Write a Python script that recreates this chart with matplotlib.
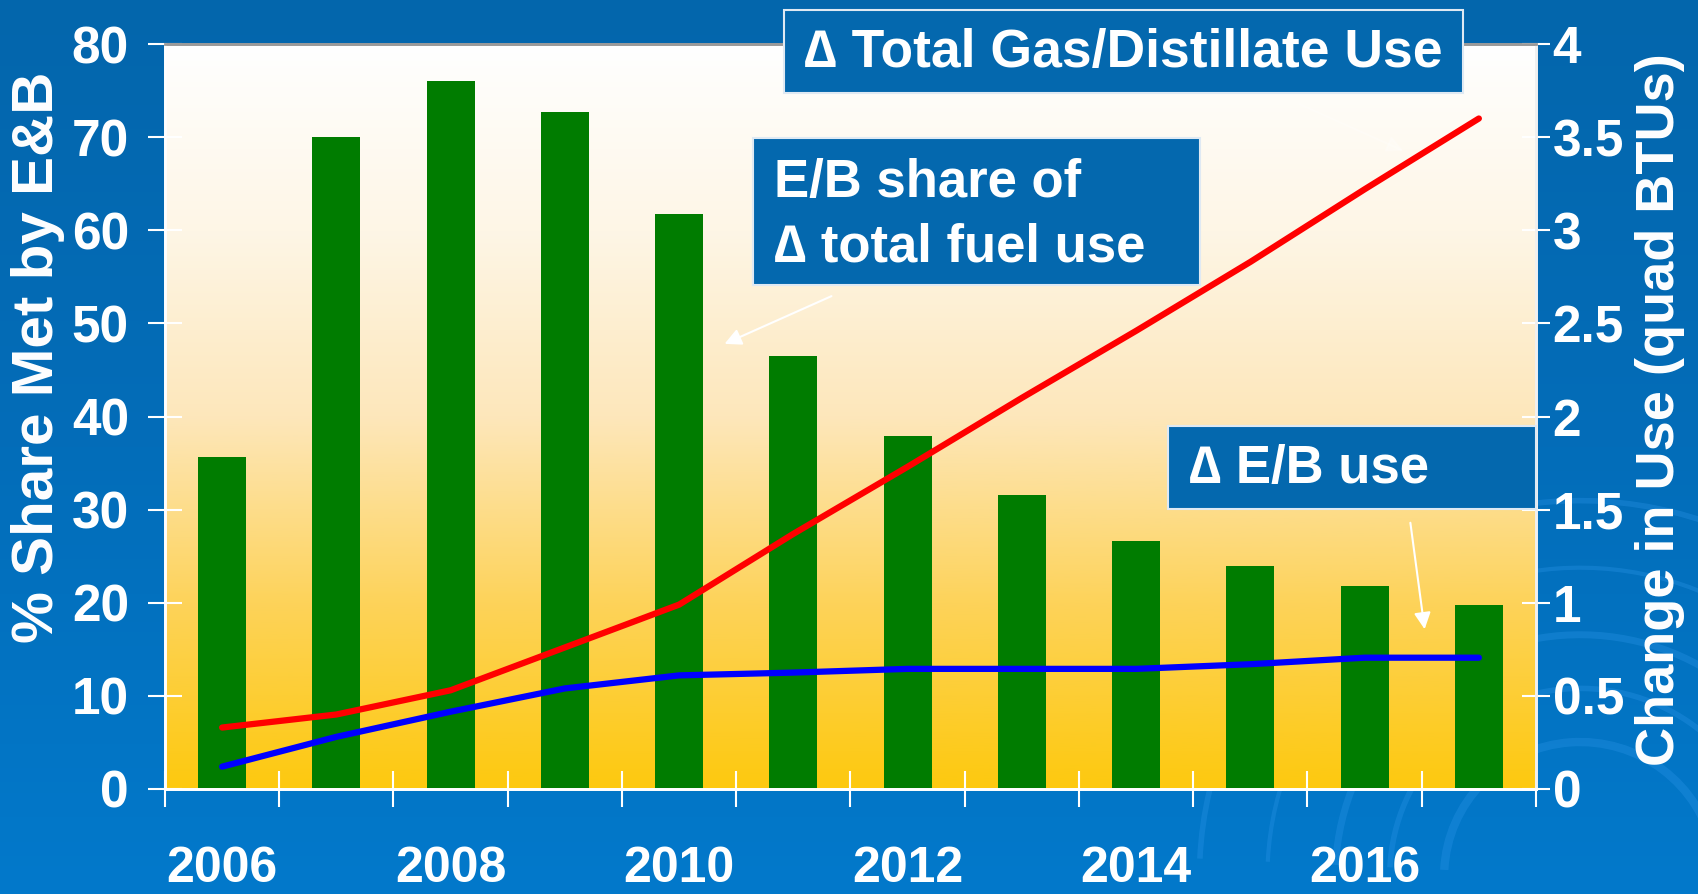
import matplotlib
matplotlib.use("Agg")
import matplotlib.pyplot as plt
import numpy as np
from matplotlib.patches import Rectangle, Arc, FancyArrowPatch
from matplotlib.colors import LinearSegmentedColormap

# data
years = [2006, 2007, 2008, 2009, 2010, 2011, 2012, 2013, 2014, 2015, 2016, 2017]
eb_share = [35.6, 70.0, 76.0, 72.7, 61.7, 46.5, 37.9, 31.6, 26.6, 23.9, 21.8, 19.8]
total_use = [0.33, 0.40, 0.53, 0.76, 0.99, 1.37, 1.73, 2.10, 2.46, 2.83, 3.22, 3.60]
eb_use = [0.12, 0.28, 0.415, 0.54, 0.61, 0.625, 0.645, 0.645, 0.645, 0.67, 0.705, 0.705]
label_years = [2006, 2008, 2010, 2012, 2014, 2016]
left_ticks = [0, 10, 20, 30, 40, 50, 60, 70, 80]
right_ticks = [0, 0.5, 1, 1.5, 2, 2.5, 3, 3.5, 4]
right_labels = ['0', '0.5', '1', '1.5', '2', '2.5', '3', '3.5', '4']

W, H = 1699, 894
def fx(px):
    return px / W
def fy(py):
    return 1 - py / H

bold = ['Liberation Sans', 'DejaVu Sans']

fig = plt.figure(figsize=(16.99, 8.94), dpi=100)

# blue slide background
bg = fig.add_axes([0, 0, 1, 1], zorder=-10)
bg.imshow(np.linspace(0, 1, 256).reshape(-1, 1), aspect='auto', extent=[0, 1, 0, 1],
          cmap=LinearSegmentedColormap.from_list('bg', ['#0366ac', '#036db9', '#0279cb']))
for r, lw in [(0.10, 6), (0.14, 4), (0.18, 5), (0.23, 3), (0.28, 4)]:
    bg.add_patch(Arc((0.93, 0.02), r * 1.6, r * 3.0, theta1=20, theta2=175,
                     color='#2a93e6', lw=lw, alpha=0.35))
bg.set_xlim(0, 1)
bg.set_ylim(0, 1)
bg.axis('off')

ax = fig.add_axes([fx(165), fy(789), fx(1536) - fx(165), fy(44) - fy(789)])
grad = LinearSegmentedColormap.from_list('plot', ['#ffffff', '#fef6e6', '#fde7bb', '#fdd35a', '#fdc90f'])
ax.imshow(np.linspace(0, 1, 256).reshape(-1, 1), aspect='auto', cmap=grad,
          extent=[2005.5, 2017.5, 0, 80], zorder=0)

ax.bar(years, eb_share, width=0.42, color='#007c00', zorder=2)
ax.set_xlim(2005.5, 2017.5)
ax.set_ylim(0, 80)

ax2 = ax.twinx()
ax2.plot(years, total_use, color='#ff0000', lw=4.5, solid_capstyle='round', zorder=3)
ax2.plot(years, eb_use, color='#0000ff', lw=4.5, solid_capstyle='round', zorder=3)
ax2.set_ylim(0, 4)

for a in (ax, ax2):
    a.spines['top'].set_color('#9a9a9a')
    a.spines['top'].set_linewidth(2)
    a.spines['left'].set_color('white')
    a.spines['right'].set_color('#f0f0f0')
    a.spines['bottom'].set_color('white')
    for s in ('left', 'right', 'bottom'):
        a.spines[s].set_linewidth(2)

ax.set_xticks(np.arange(2005.5, 2018, 1.0))
ax.set_xticklabels([])
ax.tick_params(axis='x', which='major', direction='inout', length=26, width=1.5, colors='white')
ax.set_xticks(label_years, minor=True)
ax.set_xticklabels([str(y) for y in label_years], minor=True)
ax.tick_params(axis='x', which='minor', length=0, pad=41, labelcolor='white')
for t in ax.get_xticklabels(minor=True):
    t.set_fontfamily(bold)
    t.set_fontweight('bold')
    t.set_fontsize(36)

ax.set_yticks(left_ticks)
ax.set_yticklabels([str(v) for v in left_ticks])
ax.tick_params(axis='y', direction='inout', length=24, width=1.5, colors='white', pad=14)
for t in ax.get_yticklabels():
    t.set_fontfamily(bold)
    t.set_fontweight('bold')
    t.set_fontsize(37)

ax2.set_yticks(right_ticks)
ax2.set_yticklabels(right_labels)
ax2.tick_params(axis='y', direction='inout', length=20, width=1.5, colors='white', pad=2)
for t in ax2.get_yticklabels():
    t.set_fontfamily(bold)
    t.set_fontweight('bold')
    t.set_fontsize(37)

fig.text(fx(38), fy(357), '% Share Met by E&B', rotation=90, ha='center', va='center',
         color='white', fontsize=42, fontweight='bold', family=bold)
fig.text(fx(1660), fy(410), 'Change in Use (quad BTUs)', rotation=90, ha='center', va='center',
         color='white', fontsize=39, fontweight='bold', family=bold)

# callout boxes
def callout(x0, y0, x1, y1, lines, tx, tys, size):
    fig.patches.append(Rectangle((fx(x0), fy(y1)), fx(x1) - fx(x0), fy(y0) - fy(y1),
                                 transform=fig.transFigure, facecolor='#0468ae',
                                 edgecolor='#dfe9f3', lw=1.5, zorder=5))
    for line, ty in zip(lines, tys):
        fig.text(fx(tx), fy(ty), line, ha='left', va='center', color='white',
                 fontsize=size, fontweight='bold', family=bold, zorder=6)

callout(784, 10, 1463, 93, ['\u2206 Total Gas/Distillate Use'], 804, [53], 38.5)
callout(753, 138, 1200, 285, ['E/B share of', '\u2206 total fuel use'], 774, [183, 247], 38)
callout(1168, 426, 1536, 509, ['\u2206 E/B use'], 1189, [469], 38)

arrows = [((834, 295), (722, 345), 1.0), ((1410, 520), (1425, 632), 1.0), ((1297, 103), (1406, 152), 0.25)]
for (x0, y0), (x1, y1), al in arrows:
    fig.add_artist(FancyArrowPatch(
        (fx(x0), fy(y0)), (fx(x1), fy(y1)), transform=fig.transFigure,
        arrowstyle='-|>,head_length=10,head_width=5', color='white', lw=1.5,
        alpha=al, zorder=7))

fig.savefig('out.png', dpi=100)
